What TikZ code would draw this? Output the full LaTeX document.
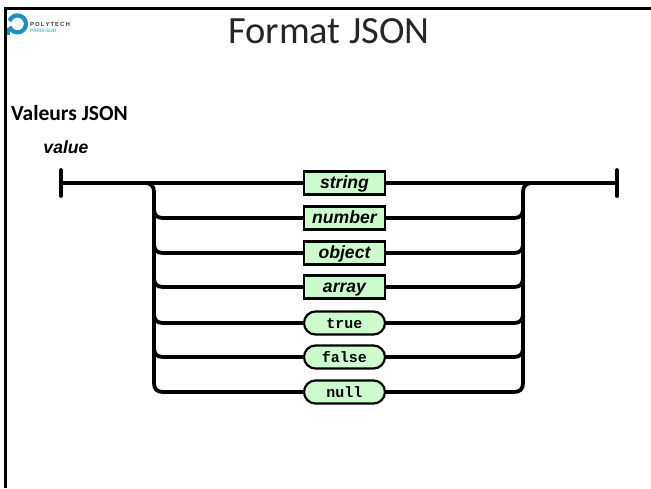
\documentclass[tikz,border=0pt]{standalone}
\usepackage{fontspec}
\setmainfont{Carlito}
\newfontfamily\railfont{Liberation Sans}
\newfontfamily\litfont{Liberation Mono}
\definecolor{railgreen}{HTML}{CCFCCB}
\definecolor{polyblue}{HTML}{1C8FC4}
\tikzset{
    rail/.style={line width=3.8pt},
    endbar/.style={line width=3.8pt, line cap=round},
    rule/.style={draw=black, line width=2.2pt, fill=railgreen, minimum width=81pt, minimum height=23pt,
        inner sep=0pt, outer sep=1pt, text height=12pt, text depth=2pt, font=\railfont\fontsize{17.6}{19}\selectfont\bfseries\itshape},
    literal/.style={rule, rounded corners=11.5pt, font=\litfont\fontsize{15}{16}\selectfont\bfseries},
}
\begin{document}
\begin{tikzpicture}[x=1pt, y=-1pt]
\useasboundingbox (0,0) rectangle (651,488);

\draw[line width=3pt] (5.5,488) -- (5.5,8.5) -- (651,8.5);

\draw[polyblue, line width=4.2pt] (9.5,21) arc (-160:160:8.5);
\draw[polyblue, line width=3pt] (8.5,28) -- (8.5,35);
\node[anchor=base west, inner sep=0pt, font=\railfont\fontsize{6}{6}\selectfont\bfseries, text=black!75] (polytech) at (30,26.5) {P\,O\,L\,Y\,T\,E\,C\,H};
\node[anchor=base west, inner sep=0pt, font=\railfont\fontsize{4.8}{5}\selectfont\bfseries, text=polyblue!70] (parissud) at (30,32) {PARIS-SUD};

\node[anchor=base, inner sep=0pt, text=black!85, font=\fontsize{38.5}{40}\selectfont] (title) at (329,43) {Format JSON};
\node[anchor=base west, inner sep=0pt, font=\fontsize{21.5}{24}\selectfont\bfseries] (heading) at (11,120) {Valeurs JSON};
\node[anchor=base, inner sep=0pt, font=\railfont\fontsize{17.6}{19}\selectfont\bfseries\itshape] (diagname) at (66,153.5) {value};

\node[rule] (string) at (344.5,183) {string};
\node[rule] (number) at (344.5,218) {number};
\node[rule] (object) at (344.5,253) {object};
\node[rule] (array) at (344.5,287) {array};
\node[literal] (true) at (344.5,323) {true};
\node[literal] (false) at (344.5,357) {false};
\node[literal] (null) at (344.5,392) {null};

\coordinate (start) at (61,183);
\coordinate (finish) at (617,183);
\draw[endbar] (61,170) -- (start) -- (61,196);
\draw[endbar] (617,170) -- (finish) -- (617,196);
\draw[rail] (start) -- (string) -- (finish);

\draw[rail] (145,183) .. controls (151,183) and (154,186) .. (154,192)
    -- (154,383) .. controls (154,389) and (157,392) .. (163,392) -- (null);
\draw[rail] (532,183) .. controls (526,183) and (523,186) .. (523,192)
    -- (523,383) .. controls (523,389) and (520,392) .. (514,392) -- (null);

\foreach \nm/\y in {number/218, object/253, array/287, true/323, false/357} {
    \draw[rail] (154,\y-9) .. controls (154,\y-3) and (157,\y) .. (163,\y) -- (\nm);
    \draw[rail] (523,\y-9) .. controls (523,\y-3) and (520,\y) .. (514,\y) -- (\nm);
}
\end{tikzpicture}
\end{document}
